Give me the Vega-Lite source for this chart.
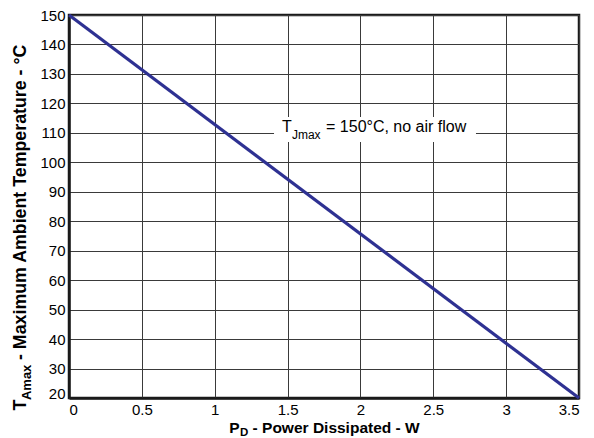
{
  "$schema": "https://vega.github.io/schema/vega-lite/v6.json",
  "width": 510,
  "height": 383,
  "autosize": {"type": "none"},
  "padding": {"left": 69, "top": 15, "right": 15, "bottom": 40},
  "background": "white",
  "config": {
    "font": "Liberation Sans",
    "view": {"stroke": "#1a1a1a", "strokeWidth": 2.5},
    "axis": {
      "grid": true,
      "gridColor": "#3a3a3a",
      "gridWidth": 1,
      "gridOpacity": 1,
      "ticks": false,
      "tickSize": 0,
      "domainColor": "#1a1a1a",
      "domainWidth": 2.5,
      "labelFont": "Liberation Sans",
      "labelFontSize": 15,
      "labelColor": "#000000",
      "labelOverlap": false,
      "titleFont": "Liberation Sans",
      "titleFontWeight": "bold",
      "titleColor": "#000000"
    },
    "axisX": {
      "tickCount": 7,
      "titleFontSize": 15.5,
      "labelFlush": true,
      "labelPadding": 4,
      "titlePadding": 3,
      "labelExpr": "datum.value + ''"
    },
    "axisY": {
      "tickCount": 13,
      "titleFontSize": 17.8,
      "titleY": 212,
      "labelPadding": 4,
      "titlePadding": 10,
      "labelBaseline": {"condition": {"test": "datum.value === 20", "value": "alphabetic"}, "value": "middle"}
    }
  },
  "data": {"values": [{"p": 0, "t": 150}, {"p": 3.5, "t": 20}]},
  "layer": [
    {
      "mark": {"type": "line", "color": "#2E3192", "strokeWidth": 3.2},
      "encoding": {
        "x": {
          "field": "p",
          "type": "quantitative",
          "scale": {"domain": [0, 3.5], "nice": false, "zero": false},
          "axis": {"title": "P\u00a0\u00a0 - Power Dissipated - W"}
        },
        "y": {
          "field": "t",
          "type": "quantitative",
          "scale": {"domain": [20, 150], "nice": false, "zero": false},
          "axis": {"title": "T\u00a0\u00a0\u00a0\u00a0\u00a0\u00a0\u00a0 - Maximum Ambient Temperature - °C"}
        }
      }
    },
    {
      "data": {"values": [{}]},
      "mark": {"type": "rect", "color": "white"},
      "encoding": {
        "x": {"datum": 1.407, "type": "quantitative"},
        "x2": {"datum": 2.793},
        "y": {"datum": 115.4, "type": "quantitative"},
        "y2": {"datum": 106.9}
      }
    },
    {
      "data": {"values": [{}]},
      "mark": {"type": "text", "text": "T", "font": "Liberation Sans", "fontSize": 16, "align": "left", "baseline": "alphabetic", "color": "black"},
      "encoding": {
        "x": {"datum": 1.462, "type": "quantitative"},
        "y": {"datum": 110.2, "type": "quantitative"}
      }
    },
    {
      "data": {"values": [{}]},
      "mark": {"type": "text", "text": "Jmax", "font": "Liberation Sans", "fontSize": 12, "align": "left", "baseline": "alphabetic", "color": "black"},
      "encoding": {
        "x": {"datum": 1.530, "type": "quantitative"},
        "y": {"datum": 107.9, "type": "quantitative"}
      }
    },
    {
      "data": {"values": [{}]},
      "mark": {"type": "text", "text": "= 150°C, no air flow", "font": "Liberation Sans", "fontSize": 16, "align": "left", "baseline": "alphabetic", "color": "black"},
      "encoding": {
        "x": {"datum": 1.764, "type": "quantitative"},
        "y": {"datum": 110.2, "type": "quantitative"}
      }
    },
    {
      "data": {"values": [{}]},
      "mark": {"type": "text", "text": "D", "font": "Liberation Sans", "fontSize": 11.5, "fontWeight": "bold", "align": "left", "baseline": "alphabetic", "color": "black"},
      "encoding": {
        "x": {"datum": 1.174, "type": "quantitative"},
        "y": {"datum": 7.1, "type": "quantitative"}
      }
    },
    {
      "data": {"values": [{}]},
      "mark": {"type": "text", "text": "Amax", "font": "Liberation Sans", "fontSize": 13, "fontWeight": "bold", "align": "left", "baseline": "alphabetic", "angle": 270, "color": "black"},
      "encoding": {
        "x": {"datum": -0.26, "type": "quantitative"},
        "y": {"datum": 19.3, "type": "quantitative"}
      }
    }
  ]
}
